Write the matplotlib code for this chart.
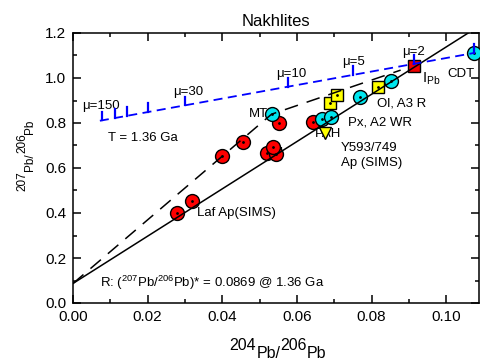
import matplotlib
matplotlib.use("Agg")
import matplotlib.pyplot as plt
from matplotlib.ticker import MultipleLocator

plt.rcParams['font.family'] = ['Liberation Sans', 'DejaVu Sans']
plt.rcParams['mathtext.fontset'] = 'custom'
plt.rcParams['mathtext.rm'] = 'Liberation Sans'
plt.rcParams['mathtext.default'] = 'regular'

W, H = 481, 360

# data
red_x = [0.0279, 0.0318, 0.0398, 0.0456, 0.0552, 0.0519, 0.0545, 0.0537, 0.0644]
red_y = [0.401, 0.453, 0.655, 0.717, 0.799, 0.665, 0.663, 0.695, 0.803]
cyan_x = [0.0532, 0.0666, 0.0691, 0.0769, 0.0851, 0.1074]
cyan_y = [0.839, 0.818, 0.825, 0.917, 0.988, 1.111]
ysq_x = [0.0688, 0.0708, 0.0818]
ysq_y = [0.887, 0.924, 0.959]
tri_x = [0.0675]
tri_y = [0.754]
ipb_x = [0.0915]
ipb_y = [1.055]

# regression / reference lines
solid_x = [0.0, 0.115]
solid_y = [0.0869, 0.0869 + 10.51 * 0.115]
dash_x = [0.0, 0.0532, 0.0878]
dash_y = [0.0869, 0.839, 1.035]
mu_line_x = [0.0072, 0.1074]
mu_line_y = [0.810, 1.111]
mu_tick_x = [0.0077, 0.0113, 0.0144, 0.0202, 0.0300, 0.0576, 0.0750, 0.0915, 0.1074]
mu_labels = [("\u03bc=150", 0.0025, 0.862), ("\u03bc=30", 0.0267, 0.923),
             ("\u03bc=10", 0.0545, 1.005), ("\u03bc=5", 0.0722, 1.06),
             ("\u03bc=2", 0.0883, 1.1)]

xlabel_parts = [("204", 1), ("Pb/", 0), ("206", 1), ("Pb", 0)]
ylabel_parts = [("207", 1), ("Pb/", 0), ("206", 1), ("Pb", 0)]


def mu_y(x):
    x0, x1 = mu_line_x
    y0, y1 = mu_line_y
    return y0 + (y1 - y0) * (x - x0) / (x1 - x0)


def iso_label(fig, parts, cx, cy, fs, shift, vertical=False):
    # axis label like 204Pb/206Pb with raised numbers and lowered Pb
    r = fig.canvas.get_renderer()
    rot = 90 if vertical else 0
    texts = [fig.text(0, 0, s, fontsize=fs, rotation=rot, rotation_mode='anchor',
                      ha='left', va='baseline') for s, _ in parts]
    sizes = []
    for t in texts:
        bb = t.get_window_extent(r)
        sizes.append(bb.height if vertical else bb.width)
    pos = -sum(sizes) / 2
    for t, (s, up), size in zip(texts, parts, sizes):
        if vertical:
            t.set_position(((cx - shift * up) / W, (cy + pos) / H))
        else:
            t.set_position(((cx + pos) / W, (cy + shift * up) / H))
        pos += size


fig = plt.figure(figsize=(W / 100, H / 100), dpi=100)
ax = fig.add_axes([73 / W, 57 / H, 406 / W, 270 / H])

ms = 10
ax.plot(red_x, red_y, 'o', ms=ms, mfc='#ff0000', mec='black', mew=1.0, zorder=3)
ax.plot(cyan_x, cyan_y, 'o', ms=ms, mfc='#00e5ee', mec='black', mew=1.0, zorder=3)
ax.plot(ysq_x, ysq_y, 's', ms=8.5, mfc='#ffff00', mec='black', mew=1.0, zorder=3)
ax.plot(ipb_x, ipb_y, 's', ms=8.5, mfc='#ee0000', mec='black', mew=1.0, zorder=3)
ax.plot(tri_x, tri_y, 'v', ms=9, mfc='#ffff00', mec='black', mew=1.0, zorder=3)
ax.plot(red_x + cyan_x + ysq_x, red_y + cyan_y + ysq_y, '.', ms=2, color='black', zorder=4)

ax.plot(solid_x, solid_y, '-', color='black', lw=1.1, zorder=5)
ax.plot(dash_x, dash_y, '--', color='black', lw=1.1, dashes=(9, 6), zorder=5)
ax.plot(mu_line_x, mu_line_y, '--', color='#0000ff', lw=1.3, dashes=(5, 3), zorder=5)
for x in mu_tick_x:
    y = mu_y(x)
    ax.plot([x, x], [y, y + 0.038], '-', color='#0000ff', lw=1.6, zorder=5)

fs = 9.5
for txt, x, y in mu_labels:
    ax.text(x, y, txt, fontsize=fs, ha='left', va='baseline')
ax.text(0.0095, 0.72, "T = 1.36 Ga", fontsize=fs)
ax.text(0.0470, 0.825, "MT", fontsize=fs)
ax.text(0.0935, 0.98, r"I$_{Pb}$", fontsize=10.5)
ax.text(0.1003, 1.005, "CDT", fontsize=fs)
ax.text(0.0815, 0.875, "Ol, A3 R", fontsize=fs)
ax.text(0.0737, 0.788, "Px, A2 WR", fontsize=fs)
ax.text(0.0648, 0.738, "PAH", fontsize=fs, zorder=1)
ax.text(0.0718, 0.675, "Y593/749", fontsize=fs)
ax.text(0.0718, 0.608, "Ap (SIMS)", fontsize=fs)
ax.text(0.0333, 0.385, "Laf Ap(SIMS)", fontsize=fs)
ax.text(0.0552, 0.655, "l", fontsize=fs, zorder=1)
ax.text(0.0072, 0.07, r"R: ($^{207}$Pb/$^{206}$Pb)* = 0.0869 @ 1.36 Ga", fontsize=fs)

ax.set_xlim(0, 0.1088)
ax.set_ylim(0, 1.2)
ax.xaxis.set_major_locator(MultipleLocator(0.02))
ax.xaxis.set_minor_locator(MultipleLocator(0.01))
ax.yaxis.set_major_locator(MultipleLocator(0.2))
ax.yaxis.set_minor_locator(MultipleLocator(0.1))
ax.xaxis.set_major_formatter(lambda v, p: f"{v:.2f}")
ax.yaxis.set_major_formatter(lambda v, p: f"{v:.1f}")
ax.tick_params(which='both', direction='in', top=True, right=True, width=1.1)
ax.tick_params(which='major', length=6, labelsize=11, pad=5)
ax.tick_params(which='minor', length=3)
for s in ax.spines.values():
    s.set_linewidth(1.1)

ax.set_title("Nakhlites", fontsize=12, pad=5)
iso_label(fig, xlabel_parts, 278, 2, 11.5, 8)
iso_label(fig, ylabel_parts, 33, 205, 8.5, 7.5, vertical=True)

fig.savefig("out.png", dpi=100)
